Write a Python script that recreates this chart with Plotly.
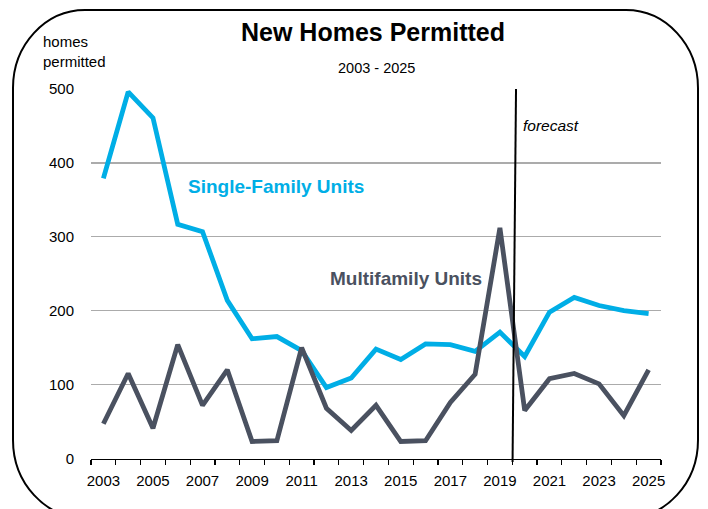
import plotly.graph_objects as go

years = list(range(2003, 2026))
single_family = [379, 496, 461, 317, 307, 214, 162, 165, 146, 96, 109,
                 148, 134, 155, 154, 145, 171, 138, 198, 218, 207, 200, 196]
multifamily = [47, 115, 41, 154, 72, 120, 23, 24, 150, 68, 38,
               72, 23, 24, 76, 114, 312, 65, 108, 115, 101, 58, 120]
x_tick_labels = [str(y) for y in range(2003, 2026, 2)]
y_ticks = [0, 100, 200, 300, 400, 500]

W, H = 708, 509
FONT = "Liberation Sans, Arial, sans-serif"
BLUE = "#00AEE6"
GRAY = "#4A5160"


def px(x):
    return x / W


def py(y):
    return 1 - y / H


fig = go.Figure()
fig.add_trace(go.Scatter(x=years, y=single_family, mode="lines",
                         line=dict(color=BLUE, width=4.8), showlegend=False))
fig.add_trace(go.Scatter(x=years, y=multifamily, mode="lines",
                         line=dict(color=GRAY, width=4.8), showlegend=False))

# rounded frame
L, T, R, B = 13, 10, 698, 518
rx, ry = 72, 78
k = 0.5523


def P(x, y):
    return f"{px(x):.5f},{py(y):.5f}"


path = (f"M {P(L + rx, T)} L {P(R - rx, T)} "
        f"C {P(R - rx + rx * k, T)} {P(R, T + ry - ry * k)} {P(R, T + ry)} "
        f"L {P(R, B - ry)} "
        f"C {P(R, B - ry + ry * k)} {P(R - rx + rx * k, B)} {P(R - rx, B)} "
        f"L {P(L + rx, B)} "
        f"C {P(L + rx - rx * k, B)} {P(L, B - ry + ry * k)} {P(L, B - ry)} "
        f"L {P(L, T + ry)} "
        f"C {P(L, T + ry - ry * k)} {P(L + rx - rx * k, T)} {P(L + rx, T)} Z")
fig.add_shape(type="path", path=path, xref="paper", yref="paper",
              line=dict(color="black", width=2))

# forecast divider
fig.add_shape(type="line", xref="x", yref="paper",
              x0=2019.51, y0=py(462), x1=2019.65, y1=py(89),
              line=dict(color="black", width=2))

fig.update_layout(
    template="none",
    width=W, height=H,
    margin=dict(l=0, r=0, t=0, b=0, autoexpand=False),
    paper_bgcolor="white", plot_bgcolor="white",
    font=dict(family=FONT, color="black", size=15),
    hovermode=False,
    xaxis=dict(domain=[px(91), px(661)], range=[2002.5, 2025.5],
               automargin=False,
               tickmode="array", tickvals=list(range(2003, 2026, 2)),
               ticktext=x_tick_labels, ticks="", showgrid=False,
               showline=True, linecolor="black", linewidth=1.2,
               zeroline=False, tickfont=dict(size=15),
               ticklabelstandoff=8,
               minor=dict(tickmode="array",
                          tickvals=[y + 0.5 for y in range(2002, 2026)],
                          ticks="outside", ticklen=5, tickcolor="black",
                          tickwidth=1.2, showgrid=False)),
    yaxis=dict(domain=[py(458.5), py(89)], range=[0, 500],
               automargin=False,
               tickmode="array", tickvals=y_ticks,
               ticks="", showgrid=True, gridcolor="#ABABAB", gridwidth=1.3,
               zeroline=False, showline=False, tickfont=dict(size=15),
               ticklabelstandoff=16),
)

ann = [
    dict(text="<b>New Homes Permitted</b>", x=px(373), y=py(32), size=25),
    dict(text="2003 - 2025", x=px(376), y=py(68), size=14.5),
]
for a in ann:
    fig.add_annotation(text=a["text"], x=a["x"], y=a["y"], xref="paper",
                       yref="paper", showarrow=False, xanchor="center",
                       yanchor="middle", font=dict(size=a["size"], color="black"))

fig.add_annotation(text="homes<br>permitted", x=px(41), y=py(51), xref="paper",
                   yref="paper", showarrow=False, xanchor="left", yanchor="middle",
                   align="left", font=dict(size=15, color="black"))
fig.add_annotation(text="<i>forecast</i>", x=px(521), y=py(125), xref="paper",
                   yref="paper", showarrow=False, xanchor="left", yanchor="middle",
                   font=dict(size=15.5, color="black"))
fig.add_annotation(text="<b>Single-Family Units</b>", x=px(186), y=py(186),
                   xref="paper", yref="paper", showarrow=False, xanchor="left",
                   yanchor="middle", font=dict(size=19, color=BLUE))
fig.add_annotation(text="<b>Multifamily Units</b>", x=px(328), y=py(278),
                   xref="paper", yref="paper", showarrow=False, xanchor="left",
                   yanchor="middle", font=dict(size=19, color=GRAY))

fig.write_html("out.html",
               config={"displayModeBar": False, "staticPlot": True},
               post_script="document.body.style.margin='0px';"
                           "document.body.style.overflow='hidden';")
